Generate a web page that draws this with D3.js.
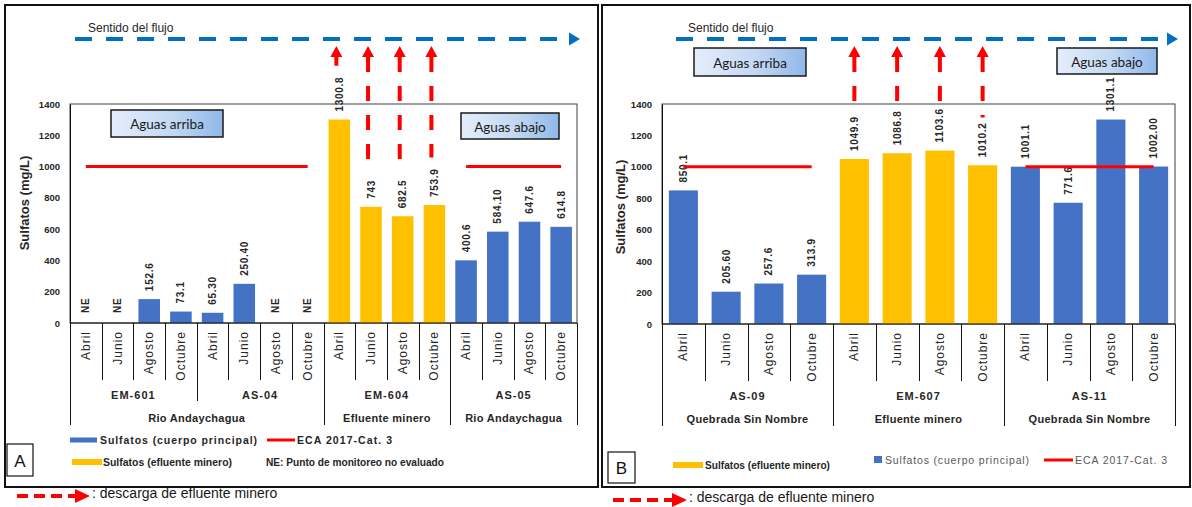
<!DOCTYPE html>
<html>
<head>
<meta charset="utf-8">
<script src="https://cdn.jsdelivr.net/npm/d3@7"></script>
<style>
  html, body { margin: 0; padding: 0; background: #fff; }
  svg { display: block; font-family: "Liberation Sans", Arial, sans-serif; }
</style>
</head>
<body>
<svg id="chart" width="1192" height="507"></svg>
<script>
// ---- shared categories and texts ----
const months = ["Abril", "Junio", "Agosto", "Octubre"];
const yTicks = [0, 200, 400, 600, 800, 1000, 1200, 1400];
const yMax = 1400;
const yTitle = "Sulfatos (mg/L)";
const flowTitle = "Sentido del flujo";
const upstreamText = "Aguas arriba";
const downstreamText = "Aguas abajo";
const dischargeText = ": descarga de efluente minero";
const legendTexts = ["Sulfatos (cuerpo principal)", "ECA 2017-Cat. 3", "Sulfatos (efluente minero)", "NE: Punto de monitoreo no evaluado"];

// ---- panel A: río Andaychagua ----
const stationsA = ["EM-601", "AS-04", "EM-604", "AS-05"];
const streamsA = ["Rio Andaychagua", "Rio Andaychagua", "Efluente minero", "Rio Andaychagua"];
const kindsA = ["cuerpo", "cuerpo", "efluente", "cuerpo"];
const ecaA = [1000, 1000, null, 1000];
const valuesA = [null, null, 152.6, 73.1, 65.30, 250.40, null, null, 1300.8, 743, 682.5, 753.9, 400.6, 584.10, 647.6, 614.8];
const labelsA = ["NE", "NE", "152.6", "73.1", "65.30", "250.40", "NE", "NE", "1300.8", "743", "682.5", "753.9", "400.6", "584.10", "647.6", "614.8"];

// ---- panel B: quebrada Sin Nombre ----
const stationsB = ["AS-09", "EM-607", "AS-11"];
const streamsB = ["Quebrada Sin Nombre", "Efluente minero", "Quebrada Sin Nombre"];
const kindsB = ["cuerpo", "efluente", "cuerpo"];
const ecaB = [1000, null, 1000];
const valuesB = [850.1, 205.60, 257.6, 313.9, 1049.9, 1086.8, 1103.6, 1010.2, 1001.1, 771.6, 1301.1, 1002.00];
const labelsB = ["850.1", "205.60", "257.6", "313.9", "1049.9", "1086.8", "1103.6", "1010.2", "1001.1", "771.6", "1301.1", "1002.00"];

const colors = { cuerpo: "#4472C4", efluente: "#FFC000", eca: "#FF0000", flow: "#0070C0", text: "#262626" };

const svg = d3.select("#chart");
const defs = svg.append("defs");
const grad = defs.append("linearGradient").attr("id", "boxGrad").attr("x1", "0%").attr("x2", "100%");
grad.append("stop").attr("offset", "0%").attr("stop-color", "#e4eefa");
grad.append("stop").attr("offset", "55%").attr("stop-color", "#c3d8f3");
grad.append("stop").attr("offset", "100%").attr("stop-color", "#8fb8ea");

function rotatedText(g, x, y, txt) {
  return g.append("text")
    .attr("transform", `translate(${x},${y}) rotate(-90)`)
    .text(txt);
}

function redArrowHead(g, x, tipY, w, h) {
  g.append("path")
    .attr("d", `M${x},${tipY} L${x - w / 2},${tipY + h} L${x + w / 2},${tipY + h} Z`)
    .attr("fill", colors.eca);
}

function drawPanel(cfg) {
  const g = svg.append("g");
  const items = [];
  cfg.stations.forEach((s, i) => {
    months.forEach((m, j) => {
      const k = i * months.length + j;
      items.push({ key: k, station: i, month: m, kind: cfg.kinds[i], value: cfg.values[k], label: cfg.labels[k], eca: cfg.eca[i] });
    });
  });

  const { x0, x1, y0, y1 } = cfg.plot;
  const x = d3.scaleBand().domain(items.map(d => d.key)).range([x0, x1]).paddingInner(0.32).paddingOuter(0.16);
  const y = d3.scaleLinear().domain([0, yMax]).range([y1, y0]);
  const step = x.step();
  const cx = d => x(d.key) + x.bandwidth() / 2;

  // panel frame
  g.append("rect").attr("x", cfg.frame[0]).attr("y", cfg.frame[1])
    .attr("width", cfg.frame[2]).attr("height", cfg.frame[3])
    .attr("fill", "none").attr("stroke", "#111").attr("stroke-width", 2);

  // plot area border
  g.append("rect").attr("x", x0).attr("y", y0).attr("width", x1 - x0).attr("height", y1 - y0)
    .attr("fill", "none").attr("stroke", "#404040").attr("stroke-width", 1);

  // value axis
  const yAxis = g.append("g").attr("transform", `translate(${x0},0)`)
    .call(d3.axisLeft(y).tickValues(yTicks).tickSize(0).tickPadding(x0 - cfg.tickX).tickFormat(d3.format("d")));
  yAxis.select(".domain").attr("stroke", "#111");
  yAxis.selectAll("text").attr("font-size", 9.5).attr("font-weight", "bold").attr("fill", colors.text)
    .attr("font-family", "'Liberation Sans', Arial, sans-serif");

  rotatedText(g, cfg.yTitlePos[0], cfg.yTitlePos[1], yTitle)
    .attr("text-anchor", "middle").attr("dominant-baseline", "central")
    .attr("font-size", 13).attr("font-weight", "bold").attr("fill", colors.text);

  // bars
  g.selectAll("rect.bar").data(items.filter(d => d.value != null)).join("rect")
    .attr("class", "bar")
    .attr("x", d => x(d.key)).attr("width", x.bandwidth())
    .attr("y", d => y(d.value)).attr("height", d => y(0) - y(d.value))
    .attr("fill", d => colors[d.kind]);

  // value labels
  const labelSel = g.selectAll("text.vlab").data(items).join("text")
    .attr("class", "vlab")
    .attr("transform", d => `translate(${cx(d)},${y(d.value == null ? 0 : d.value) - (d.value == null ? 10 : 8)}) rotate(-90)`)
    .attr("text-anchor", "start").attr("dominant-baseline", "central")
    .attr("font-size", 10).attr("font-weight", "bold").attr("letter-spacing", 0.7)
    .attr("fill", colors.text)
    .text(d => d.label);
  labelSel.each(function (d) { d.labelLen = this.getComputedTextLength(); });

  // ECA line segments
  const ecaLine = d3.line().defined(d => d.eca != null).x(cx).y(d => y(d.eca));
  g.append("path").datum(items).attr("d", ecaLine)
    .attr("fill", "none").attr("stroke", colors.eca).attr("stroke-width", 3);

  // category axis: separators
  const axisY = y1;
  g.append("line").attr("x1", x0).attr("x2", x1).attr("y1", axisY).attr("y2", axisY)
    .attr("stroke", "#111").attr("stroke-width", 1.2);
  const nSt = cfg.stations.length;
  const regionBounds = [0];
  for (let i = 1; i < nSt; i++) if (cfg.streams[i] !== cfg.streams[i - 1]) regionBounds.push(i);
  regionBounds.push(nSt);
  for (let k = 0; k <= items.length; k++) {
    const bx = Math.round(x0 + k * step) + 0.5;
    let len = 57;
    if (k % months.length === 0) {
      const si = k / months.length;
      len = regionBounds.includes(si) ? 102 : 78;
    }
    g.append("line").attr("x1", bx).attr("x2", bx).attr("y1", axisY).attr("y2", axisY + len)
      .attr("stroke", "#111").attr("stroke-width", 1);
  }

  // month labels
  g.selectAll("text.mlab").data(items).join("text")
    .attr("class", "mlab")
    .attr("transform", d => `translate(${cx(d)},${axisY + 8}) rotate(-90)`)
    .attr("text-anchor", "end").attr("dominant-baseline", "central")
    .attr("font-size", 12).attr("letter-spacing", 1).attr("fill", colors.text)
    .text(d => d.month);

  // station labels
  cfg.stations.forEach((s, i) => {
    const mid = x0 + (i + 0.5) * months.length * step;
    g.append("text").attr("x", mid).attr("y", axisY + 72)
      .attr("text-anchor", "middle").attr("dominant-baseline", "central")
      .attr("font-size", 11).attr("font-weight", "bold").attr("letter-spacing", 1)
      .attr("fill", colors.text).text(s);
  });

  // stream labels
  for (let r = 0; r < regionBounds.length - 1; r++) {
    const a = regionBounds[r], b = regionBounds[r + 1];
    const mid = x0 + (a + b) / 2 * months.length * step;
    g.append("text").attr("x", mid).attr("y", axisY + 95)
      .attr("text-anchor", "middle").attr("dominant-baseline", "central")
      .attr("font-size", 11).attr("font-weight", "bold").attr("letter-spacing", 0.3)
      .attr("fill", colors.text).text(cfg.streams[a]);
  }

  // flow direction
  const f = cfg.flow;
  g.append("text").attr("x", f.tx).attr("y", 32).attr("font-size", 12).attr("fill", colors.text).text(flowTitle);
  g.append("line").attr("x1", f.x0).attr("x2", f.x1 - 11).attr("y1", f.y).attr("y2", f.y)
    .attr("stroke", colors.flow).attr("stroke-width", 4).attr("stroke-dasharray", "17,14");
  g.append("path").attr("d", `M${f.x1},${f.y} L${f.x1 - 11},${f.y - 6.5} L${f.x1 - 11},${f.y + 6.5} Z`)
    .attr("fill", colors.flow);

  // effluent discharge arrows
  items.filter(d => d.kind === "efluente").forEach(d => {
    const ax = cx(d) + cfg.arrowShift;
    const tip = 46, head = 11;
    const labelTop = y(d.value) - 8 - d.labelLen;
    const end = labelTop - cfg.arrowGap;
    redArrowHead(g, ax, tip, 12, head);
    g.append("line").attr("x1", ax).attr("x2", ax).attr("y1", tip + head).attr("y2", end)
      .attr("stroke", colors.eca).attr("stroke-width", 4).attr("stroke-dasharray", "15,14");
  });

  // upstream / downstream boxes
  cfg.boxes.forEach(b => {
    g.append("rect").attr("x", b.x).attr("y", b.y).attr("width", b.w).attr("height", b.h)
      .attr("fill", "url(#boxGrad)").attr("stroke", "#1a1a1a").attr("stroke-width", 1.5);
    g.append("text").attr("x", b.x + b.w / 2).attr("y", b.y + b.h / 2 + 0.5)
      .attr("text-anchor", "middle").attr("dominant-baseline", "central")
      .attr("font-family", "Lato, 'Open Sans', sans-serif").attr("font-size", 13.5)
      .attr("fill", "#1a1a1a").text(b.text);
  });

  // panel letter
  const L = cfg.letter;
  g.append("rect").attr("x", L.x).attr("y", L.y).attr("width", L.w).attr("height", L.h)
    .attr("fill", "#fff").attr("stroke", "#111").attr("stroke-width", 1.2);
  g.append("text").attr("x", L.x + L.w / 2).attr("y", L.y + L.h / 2 + 1)
    .attr("text-anchor", "middle").attr("dominant-baseline", "central")
    .attr("font-size", 17).attr("fill", "#111").text(L.text);

  // discharge key below the frame
  const D = cfg.discharge;
  g.append("line").attr("x1", D.x0).attr("x2", D.x1 - 14).attr("y1", D.y).attr("y2", D.y)
    .attr("stroke", colors.eca).attr("stroke-width", 4).attr("stroke-dasharray", "11,6");
  g.append("path").attr("d", `M${D.x1},${D.y} L${D.x1 - 15},${D.y - 7} L${D.x1 - 15},${D.y + 7} Z`).attr("fill", colors.eca);
  g.append("text").attr("x", D.x1 + 2).attr("y", D.y - 3).attr("dominant-baseline", "central")
    .attr("font-size", 14).attr("fill", "#1a1a1a").text(dischargeText);

  return g;
}

const gA = drawPanel({
  stations: stationsA, streams: streamsA, kinds: kindsA, eca: ecaA, values: valuesA, labels: labelsA,
  plot: { x0: 70, x1: 577, y0: 104, y1: 323 },
  frame: [5, 5, 593, 482],
  tickX: 60, yTitlePos: [24, 203],
  flow: { tx: 88, x0: 75, x1: 580, y: 39 },
  arrowShift: -3, arrowGap: 11,
  boxes: [
    { x: 111, y: 110, w: 112, h: 27, text: upstreamText },
    { x: 461, y: 113, w: 98, h: 26, text: downstreamText }
  ],
  letter: { x: 7, y: 444, w: 26, h: 32, text: "A" },
  discharge: { x0: 17, x1: 90, y: 496 }
});

const gB = drawPanel({
  stations: stationsB, streams: streamsB, kinds: kindsB, eca: ecaB, values: valuesB, labels: labelsB,
  plot: { x0: 662, x1: 1175, y0: 104, y1: 324 },
  frame: [602, 5, 588, 482],
  tickX: 652, yTitlePos: [620, 207],
  flow: { tx: 688, x0: 676, x1: 1178, y: 39 },
  arrowShift: 0, arrowGap: 5,
  boxes: [
    { x: 694, y: 48, w: 112, h: 28, text: upstreamText },
    { x: 1057, y: 48, w: 100, h: 26, text: downstreamText }
  ],
  letter: { x: 608, y: 452, w: 27, h: 31, text: "B" },
  discharge: { x0: 613, x1: 687, y: 500 }
});

// legend, panel A
gA.append("rect").attr("x", 70).attr("y", 437.5).attr("width", 27).attr("height", 5).attr("fill", colors.cuerpo);
gA.append("text").attr("x", 100).attr("y", 440).attr("dominant-baseline", "central")
  .attr("font-size", 10.5).attr("font-weight", "bold").attr("fill", colors.text)
  .attr("textLength", 157).attr("lengthAdjust", "spacing").text(legendTexts[0]);
gA.append("line").attr("x1", 267).attr("x2", 295).attr("y1", 440).attr("y2", 440).attr("stroke", colors.eca).attr("stroke-width", 3);
gA.append("text").attr("x", 297).attr("y", 440).attr("dominant-baseline", "central")
  .attr("font-size", 10.5).attr("font-weight", "bold").attr("fill", colors.text)
  .attr("textLength", 95).attr("lengthAdjust", "spacing").text(legendTexts[1]);
gA.append("rect").attr("x", 72).attr("y", 459).attr("width", 30).attr("height", 6).attr("fill", colors.efluente);
gA.append("text").attr("x", 103).attr("y", 462).attr("dominant-baseline", "central")
  .attr("font-size", 10.5).attr("font-weight", "bold").attr("fill", colors.text)
  .attr("textLength", 129).attr("lengthAdjust", "spacingAndGlyphs").text(legendTexts[2]);
gA.append("text").attr("x", 266).attr("y", 462).attr("dominant-baseline", "central")
  .attr("font-size", 10.5).attr("font-weight", "bold").attr("fill", colors.text)
  .attr("textLength", 178).attr("lengthAdjust", "spacingAndGlyphs").text(legendTexts[3]);

// legend, panel B
gB.append("rect").attr("x", 673).attr("y", 462).attr("width", 30).attr("height", 6).attr("fill", colors.efluente);
gB.append("text").attr("x", 705).attr("y", 465).attr("dominant-baseline", "central")
  .attr("font-size", 10.5).attr("font-weight", "bold").attr("fill", colors.text)
  .attr("textLength", 125).attr("lengthAdjust", "spacingAndGlyphs").text(legendTexts[2]);
gB.append("rect").attr("x", 874).attr("y", 456).attr("width", 8).attr("height", 7).attr("fill", colors.cuerpo);
gB.append("text").attr("x", 885).attr("y", 460).attr("dominant-baseline", "central")
  .attr("font-size", 10.5).attr("fill", "#595959")
  .attr("textLength", 144).attr("lengthAdjust", "spacing").text(legendTexts[0]);
gB.append("line").attr("x1", 1044).attr("x2", 1073).attr("y1", 460).attr("y2", 460).attr("stroke", colors.eca).attr("stroke-width", 3);
gB.append("text").attr("x", 1075).attr("y", 460).attr("dominant-baseline", "central")
  .attr("font-size", 10.5).attr("fill", "#595959")
  .attr("textLength", 92).attr("lengthAdjust", "spacing").text(legendTexts[1]);
</script>
</body>
</html>
